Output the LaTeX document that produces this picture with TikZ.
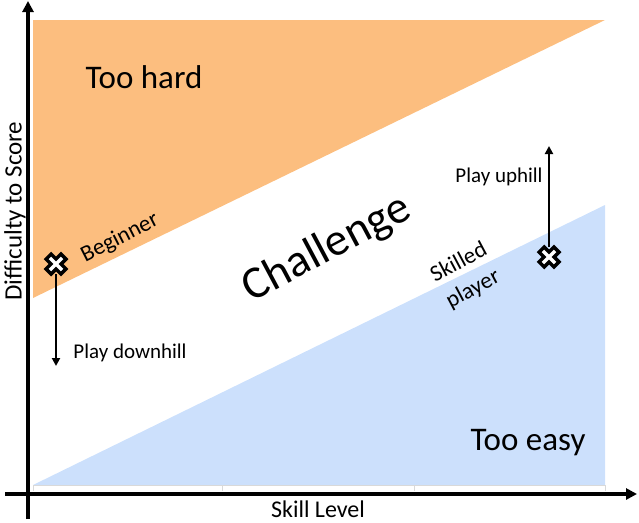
\documentclass[tikz,border=0pt]{standalone}
\usepackage{fontspec}
\setmainfont{Carlito}
\usetikzlibrary{arrows.meta}
\definecolor{hardc}{HTML}{FCBE7F}
\definecolor{easyc}{HTML}{CCE0FC}
\definecolor{gridc}{HTML}{D9D9D9}
\tikzset{
  axisline/.style={line width=3.2pt,-{Triangle[length=11pt,width=11pt]}},
  playarrow/.style={line width=2.8pt,-{Triangle[length=8pt,width=8pt]}},
  lbl/.style={inner sep=0pt,text=black},
  crossmark/.style={fill=white,draw=black,line width=3.4pt,line join=miter}
}
\newcommand{\crossat}[1]{%
  \begin{scope}[shift={#1},rotate=45]
    \path[crossmark] (-3.6,-10.5) -- (3.6,-10.5) -- (3.6,-3.6) -- (10.5,-3.6) -- (10.5,3.6) -- (3.6,3.6) -- (3.6,10.5) -- (-3.6,10.5) -- (-3.6,3.6) -- (-10.5,3.6) -- (-10.5,-3.6) -- (-3.6,-3.6) -- cycle;
  \end{scope}}
\begin{document}
\begin{tikzpicture}[x=1pt,y=-1pt]
\useasboundingbox (0,0) rectangle (639,522);
% regions
\fill[hardc] (33,20) -- (605,20) -- (33,298) -- cycle;
\fill[easyc] (33,485) -- (605,205) -- (605,485) -- cycle;
% grid baseline and ticks
\draw[gridc,line width=1pt] (33,485) -- (605,485);
\foreach \t in {33,222,414,605} \draw[gridc,line width=1pt] (\t,485) -- (\t,491);
% axes
\coordinate (yb) at (28,519);
\coordinate (yt) at (28,1);
\coordinate (xl) at (5,494);
\coordinate (xr) at (637,494);
\draw[axisline] (yb) -- (yt);
\draw[axisline] (xl) -- (xr);
% labels
\node[lbl,font=\fontsize{33}{40}\selectfont] (hard) at (144,77) {Too hard};
\node[lbl,font=\fontsize{33}{40}\selectfont] (easy) at (528,443) {Too easy};
\node[lbl,font=\fontsize{46}{55}\selectfont,rotate=28] (chal) at (327,249) {Challenge};
\node[lbl,font=\fontsize{23}{27}\selectfont,rotate=27] (beg) at (120,238) {Beginner};
\node[lbl,font=\fontsize{23}{30}\selectfont,rotate=28,align=center] (skl) at (466,276) {Skilled\\player};
\node[lbl,font=\fontsize{21}{25}\selectfont] (up) at (499,177) {Play uphill};
\node[lbl,font=\fontsize{21}{25}\selectfont] (down) at (130,353) {Play downhill};
\node[lbl,font=\fontsize{24}{28}\selectfont] (xlab) at (318,509) {Skill Level};
\node[lbl,font=\fontsize{25}{30}\selectfont,rotate=90] (ylab) at (15,211) {Difficulty to Score};
% markers
\coordinate (bx) at (56,264);
\coordinate (sx) at (549,257);
\coordinate (bend) at (56,366);
\coordinate (send) at (549,146);
\draw[playarrow] ([yshift=-10pt]bx) -- (bend);
\draw[playarrow] ([yshift=10pt]sx) -- (send);
\crossat{(bx)}
\crossat{(sx)}
\end{tikzpicture}
\end{document}
